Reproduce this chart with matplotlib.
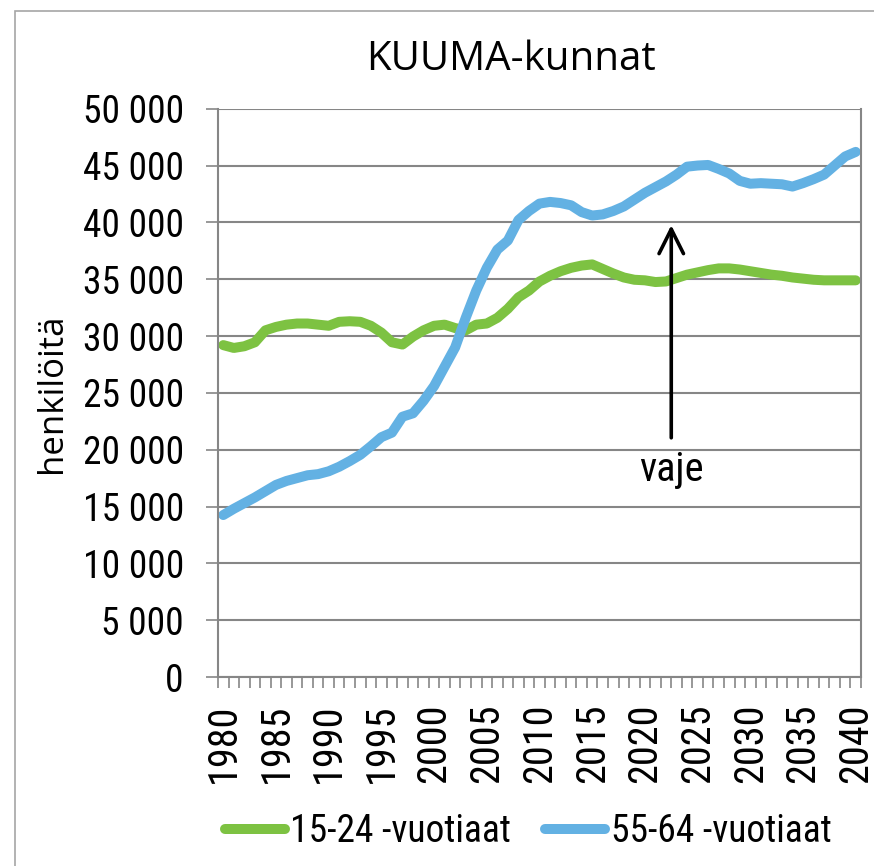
import matplotlib
matplotlib.use("Agg")
import matplotlib.pyplot as plt
import numpy as np
from matplotlib.patches import Rectangle

plt.rcParams['font.family'] = ['Roboto Condensed', 'DejaVu Sans']
wide_font = ['Open Sans', 'DejaVu Sans']

years = list(range(1980, 2041))
young = [29200, 28950, 29100, 29450, 30500, 30800, 31000, 31100, 31100, 31000,
         30900, 31250, 31300, 31250, 30900, 30300, 29450, 29250, 29950, 30500,
         30900, 31000, 30700, 30500, 31000, 31100, 31600, 32400, 33400, 34000,
         34800, 35300, 35700, 36000, 36200, 36300, 35900, 35500, 35150, 34950,
         34900, 34750, 34800, 35100, 35400, 35600, 35800, 35950, 35950, 35850,
         35700, 35550, 35400, 35300, 35150, 35050, 34950, 34900, 34900, 34900,
         34900]
old = [14250, 14800, 15300, 15800, 16350, 16900, 17250, 17500, 17750, 17850,
       18100, 18500, 19000, 19550, 20300, 21100, 21500, 22900, 23200, 24300,
       25600, 27300, 29000, 31600, 34000, 36000, 37600, 38400, 40200, 41000,
       41650, 41800, 41700, 41500, 40900, 40600, 40700, 41000, 41400, 42000,
       42600, 43100, 43600, 44200, 44900, 45000, 45050, 44700, 44300, 43650,
       43400, 43450, 43400, 43350, 43150, 43450, 43800, 44200, 45000, 45800,
       46200]
series_names = ["15-24 -vuotiaat", "55-64 -vuotiaat"]
colors = ["#7DC242", "#63B1E3"]
y_ticks = list(range(0, 50001, 5000))
y_labels = [f"{v:,}".replace(",", " ") for v in y_ticks]
label_years = list(range(1980, 2041, 5))

grid_col = "#868686"
fs = 27

fig = plt.figure(figsize=(8.74, 8.66), dpi=100)
ax = fig.add_axes([218 / 874, 1 - 677 / 866, (861 - 218) / 874, (677 - 108.7) / 866])

x = np.arange(len(years))
ax.plot(x, young, color=colors[0], lw=7.2, solid_capstyle="round", solid_joinstyle="round",
        label=series_names[0])
ax.plot(x, old, color=colors[1], lw=7.2, solid_capstyle="round", solid_joinstyle="round",
        label=series_names[1])

ax.set_xlim(-0.5, len(years) - 0.5)
ax.set_ylim(0, 50000)
ax.set_yticks(y_ticks)
ax.set_yticklabels(y_labels, fontsize=fs)
ax.yaxis.grid(True, color=grid_col, lw=1.5)
ax.set_axisbelow(True)
ax.tick_params(axis="y", length=8.6, width=1.2, color=grid_col, pad=16)

ax.set_xticks([years.index(y) for y in label_years])
ax.set_xticklabels([str(y) for y in label_years], rotation=90, fontsize=29)
ax.set_xticks(np.arange(-0.5, len(years)), minor=True)
ax.tick_params(axis="x", which="major", length=0, pad=19)
ax.tick_params(axis="x", which="minor", length=8, width=1.2, color=grid_col)

for s in ax.spines.values():
    s.set_color(grid_col)
    s.set_linewidth(1.5)
ax.spines["top"].set_visible(False)

ax.set_ylabel("henkilöitä", fontsize=25, family=wide_font, labelpad=10)

# vaje arrow
ax.annotate("", xy=(years.index(2022) + 0.5, 40000), xytext=(years.index(2022) + 0.5, 20800),
            arrowprops=dict(arrowstyle="->", color="black", lw=2.6, mutation_scale=44))
ax.text(years.index(2022) + 0.5, 18300, "vaje", fontsize=29, ha="center", va="center")

fig.text(511 / 874, 1 - 60 / 866, "KUUMA-kunnat", fontsize=29, family=wide_font,
         ha="center", va="center")

fig.legend(loc="center", bbox_to_anchor=(528 / 874, 1 - 832 / 866), ncol=2, frameon=False,
           fontsize=fs, handlelength=1.6, handletextpad=0.15, columnspacing=0.9)

fig.patches.append(Rectangle((15 / 874, -0.1), 1.2, 1 - 11 / 866 + 0.1, transform=fig.transFigure,
                             fill=False, edgecolor="#A6A6A6", lw=1.2))

fig.savefig("out.png", dpi=100)
